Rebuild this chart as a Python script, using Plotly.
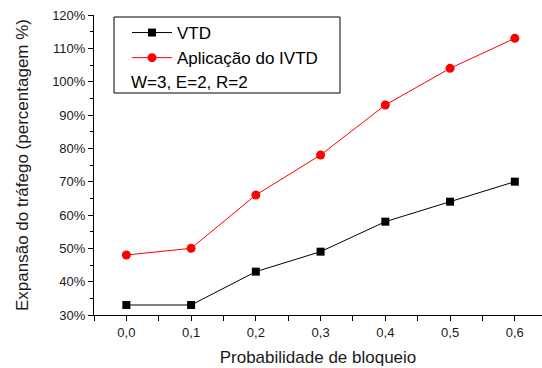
import plotly.graph_objects as go

# Blocking probability (x) and traffic expansion in percent (y)
prob_bloqueio = [0.0, 0.1, 0.2, 0.3, 0.4, 0.5, 0.6]
vtd = [33, 33, 43, 49, 58, 64, 70]
ivtd = [48, 50, 66, 78, 93, 104, 113]
y_ticks = [30, 40, 50, 60, 70, 80, 90, 100, 110, 120]
y_labels = [f"{v}%" for v in y_ticks]
x_labels = [f"{v:.1f}".replace(".", ",") for v in prob_bloqueio]

FONT = "Arial, Liberation Sans, sans-serif"
TXT = "#1a1a1a"

fig = go.Figure()
fig.add_trace(go.Scatter(
    x=prob_bloqueio, y=vtd, name="VTD", mode="lines+markers",
    line=dict(color="black", width=1),
    marker=dict(symbol="square", size=8, color="black"),
    cliponaxis=False,
))
fig.add_trace(go.Scatter(
    x=prob_bloqueio, y=ivtd, name="Aplicação do IVTD", mode="lines+markers",
    line=dict(color="#ff0000", width=1),
    marker=dict(symbol="circle", size=9, color="#ff0000"),
    cliponaxis=False,
))

W, H = 542, 368
ml, mr, mt, mb = 94, 0, 15, 53
pw, ph = W - ml - mr, H - mt - mb

fig.update_layout(
    width=W, height=H,
    margin=dict(l=ml, r=mr, t=mt, b=mb),
    paper_bgcolor="white", plot_bgcolor="white",
    font=dict(family=FONT, color=TXT, size=13),
    showlegend=True,
    legend=dict(
        x=(127 - ml) / pw, y=1 - (15 - mt) / ph,
        xanchor="left", yanchor="top",
        bgcolor="rgba(0,0,0,0)", borderwidth=0,
        font=dict(size=17, family=FONT, color="black"),
        itemwidth=40, tracegroupgap=0,
    ),
    xaxis=dict(
        range=[-0.05, 0.642], tickvals=prob_bloqueio, ticktext=x_labels,
        showgrid=False, zeroline=False, showline=True, linecolor="black", linewidth=1,
        ticks="outside", ticklen=5, tickcolor="black",
        minor=dict(dtick=0.05, tick0=0.05, ticks="outside", ticklen=5, tickcolor="black"),
        tickfont=dict(size=13, color=TXT),
        title=dict(text="Probabilidade de bloqueio", font=dict(size=17, color=TXT), standoff=12),
    ),
    yaxis=dict(
        range=[30, 120], tickvals=y_ticks, ticktext=y_labels,
        showgrid=False, zeroline=False, showline=True, linecolor="black", linewidth=1,
        ticks="outside", ticklen=5, tickcolor="black",
        minor=dict(dtick=5, tick0=35, ticks="outside", ticklen=3, tickcolor="black"),
        tickfont=dict(size=13, color=TXT),
        title=dict(text="Expansão do tráfego (percentagem %)", font=dict(size=17, color=TXT), standoff=19),
    ),
)

# Legend frame and parameter note
fig.add_shape(type="rect", xref="paper", yref="paper",
              x0=(114 - ml) / pw, x1=(340 - ml) / pw,
              y0=1 - (93 - mt) / ph, y1=1 - (17 - mt) / ph,
              line=dict(color="black", width=1), fillcolor="rgba(0,0,0,0)")
fig.add_annotation(text="W=3, E=2, R=2", xref="paper", yref="paper",
                   x=(129 - ml) / pw, y=1 - (82 - mt) / ph,
                   xanchor="left", yanchor="middle", showarrow=False,
                   font=dict(size=17, family=FONT, color="black"))

fig.write_html("out.html")
